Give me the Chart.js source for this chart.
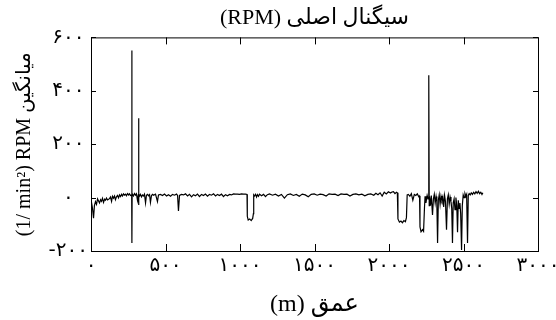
<!DOCTYPE html>
<html>
<head>
<meta charset="utf-8">
<script src="https://cdn.jsdelivr.net/npm/chart.js@4.4.1/dist/chart.umd.min.js"></script>
<style>
  html, body { margin: 0; padding: 0; background: #fff; }
  #wrap { width: 556px; height: 320px; }
</style>
</head>
<body>
<div id="wrap"><canvas id="rpm_canvas"></canvas></div>
<script>
const line_color = 'rgb(0, 0, 0)';
const serif = "'Liberation Serif', 'DejaVu Sans', serif";
const digits = "'DejaVu Sans', sans-serif";

const chart_title = '(RPM) سیگنال اصلی';
const x_title = '(m) عمق';
const y_title = '(1/ min²) RPM میانگین';

const x_tick_labels = ['۰', '۵۰۰', '۱۰۰۰', '۱۵۰۰', '۲۰۰۰', '۲۵۰۰', '۳۰۰۰'];
const y_tick_labels = ['-۲۰۰', '۰', '۲۰۰', '۴۰۰', '۶۰۰'];

// depth (m) and mean RPM
const depth_m = [
  3, 10, 17, 23, 30, 37, 44, 50, 57, 64, 70, 77, 84, 91, 97, 104, 111, 124, 131, 138,
  144, 151, 158, 164, 171, 178, 185, 191, 198, 205, 211, 218, 225, 232, 238, 245, 252, 258, 265,
  273, 274, 275, 276, 279, 285, 292, 299, 305, 312,
  318, 319, 320, 322, 325, 332, 339, 346, 352, 359, 366, 372, 379, 386, 393, 399, 406, 413, 419,
  433, 446, 453, 466, 480, 493, 507, 520, 534, 547, 560, 574, 581, 587, 594,
  607, 621, 634, 648, 661, 675, 688, 701, 715, 728, 742, 755, 768, 782, 795, 809, 822, 836, 849,
  862, 876, 889, 903, 916, 930, 943, 956, 970, 983, 997, 1010, 1023, 1037, 1047,
  1049, 1055, 1065, 1075, 1085, 1090, 1092,
  1097, 1104, 1111, 1117, 1124, 1131, 1144, 1158, 1171, 1184, 1198,
  1218, 1238, 1258, 1278, 1298, 1318, 1338, 1358, 1378, 1398, 1418, 1438, 1458, 1478, 1498,
  1518, 1538, 1558, 1578, 1598, 1618, 1638, 1658, 1678, 1698, 1718, 1738, 1758, 1778, 1798,
  1818, 1838, 1858, 1878, 1898, 1912, 1926, 1940, 1954, 1968, 1982, 1996, 2010, 2020,
  2030, 2040, 2050, 2056,
  2060, 2070, 2080, 2090, 2100, 2110, 2117, 2122,
  2130, 2140, 2150, 2160, 2170, 2180, 2190, 2200, 2205,
  2208, 2215, 2225, 2232, 2238, 2242, 2248, 2256, 2262,
  2266, 2268, 2270,
  2272, 2278, 2284, 2292, 2298, 2304, 2310, 2316, 2321, 2326, 2331, 2337, 2343, 2349, 2355,
  2361, 2367, 2373, 2379, 2386, 2392, 2398, 2404, 2410, 2416, 2421, 2426, 2431, 2437, 2443,
  2449, 2455, 2460, 2465, 2470, 2476, 2481, 2487, 2492, 2498, 2504, 2510, 2516, 2521, 2527,
  2532, 2538, 2545, 2552, 2560, 2568, 2576, 2584, 2592, 2600, 2608, 2616, 2624, 2630
];
const rpm_mean = [
  -17, -40, -77, -30, -15, -25, -5, -12, -20, -8, -14, -3, -18, -6, -10, -2, -9, -4, 2, -14,
  5, -2, 6, -8, 3, 8, -1, 10, 4, 12, 6, 14, 9, 13, 7, 15, 10, 14, 8,
  10, 551, -170, 10, 12, 6, 15, 9, 14, -10,
  12, 297, -28, 15, 5, 12, 3, 10, 6, 13, -20, 9, 12, 7, 11, -18, 8, 12, 9,
  13, -15, 10, 12, 8, 13, 6, 11, 5, 12, 9, 13, 8, -50, 8,
  12, 10, 14, 6, 12, 3, 11, 7, 13, 4, 12, 8, 13, 5, 12, 9, 14, 6, 12,
  8, 13, 4, 11, 7, 12, 10, 14, 13, 13, 12, 14, 13, 13, 12,
  -70, -84, -80, -86, -78, -60, 10,
  6, 12, 2, 11, 5, 13, 7, 12, 4, 11, 14,
  9, 13, 6, 12, -2, 11, 14, 8, 12, 5, 13, 10, 3, 12, 14,
  9, 13, 11, 6, 14, 12, 13, 8, 14, 12, 13, 6, 12, 14, 10,
  13, 7, 12, 14, 9, 16, 11, 18, 6, 20, 14, 22, 17, 21,
  22, 15, 20, 18,
  -80, -92, -88, -94, -86, -90, -75, 10,
  12, 5, 15, -10, 12, 8, 14, 3, 6,
  -110, -128, -120, -126, -40, 5, -20, 8, -5,
  0, 458, -30,
  5, -30, 8, -65, -5, 12, -20, 4, -15, -170, -10, 10, -25, 6, -10,
  3, -35, 8, -15, -120, -5, 10, -25, 2, -15, -40, -170, -20, -5, -45,
  0, -30, -130, -10, -40, -20, -60, -196, -30, 10, 0, 15, 5, 12, -170,
  8, 15, 10, 18, 12, 20, 14, 22, 16, 24, 15, 20, 12, 18
];

// box round the plot and tick marks pointing inward on all four sides
const framePlugin = {
  id: 'frame',
  afterDraw(chart) {
    const ctx = chart.ctx;
    const a = chart.chartArea;
    const x = chart.scales.x;
    const y = chart.scales.y;
    ctx.save();
    ctx.strokeStyle = line_color;
    ctx.lineWidth = 1;
    ctx.strokeRect(a.left + 0.5, a.top + 0.5, a.right - a.left, a.bottom - a.top);
    ctx.beginPath();
    x.ticks.forEach(t => {
      const px = Math.round(x.getPixelForValue(t.value)) + 0.5;
      ctx.moveTo(px, a.bottom); ctx.lineTo(px, a.bottom - 7);
      ctx.moveTo(px, a.top); ctx.lineTo(px, a.top + 7);
    });
    y.ticks.forEach(t => {
      const py = Math.round(y.getPixelForValue(t.value)) + 0.5;
      ctx.moveTo(a.left, py); ctx.lineTo(a.left + 5, py);
      ctx.moveTo(a.right, py); ctx.lineTo(a.right - 5, py);
    });
    ctx.stroke();
    ctx.restore();
  }
};

new Chart(document.getElementById('rpm_canvas'), {
  type: 'line',
  data: {
    datasets: [{
      label: 'RPM',
      data: depth_m.map((d, i) => ({ x: d, y: rpm_mean[i] })),
      borderColor: line_color,
      borderWidth: 1.2,
      pointRadius: 0,
      tension: 0,
      fill: false
    }]
  },
  options: {
    responsive: true,
    maintainAspectRatio: false,
    animation: false,
    layout: { padding: { left: 0, right: 18, top: 0, bottom: 0 } },
    plugins: {
      legend: { display: false },
      tooltip: { enabled: false },
      title: {
        display: true,
        text: chart_title,
        fullSize: false,
        color: line_color,
        font: { family: serif, size: 22, weight: 'normal' },
        padding: { top: 5, bottom: 6 }
      }
    },
    scales: {
      x: {
        type: 'linear',
        min: 0,
        max: 3000,
        grid: { display: false, drawTicks: false },
        border: { display: false },
        ticks: {
          stepSize: 500,
          maxRotation: 0,
          autoSkip: false,
          color: line_color,
          padding: 3,
          font: { family: digits, size: 20 },
          callback: (v, i) => x_tick_labels[i]
        },
        title: {
          display: true,
          text: x_title,
          color: line_color,
          font: { family: serif, size: 24 },
          padding: { top: 0, bottom: 1 }
        },
        afterFit: s => { s.height = 69; s.paddingLeft = 0; s.paddingRight = 0; }
      },
      y: {
        min: -200,
        max: 600,
        grid: { display: false, drawTicks: false },
        border: { display: false },
        ticks: {
          stepSize: 200,
          crossAlign: 'center',
          color: line_color,
          padding: 3,
          font: { family: digits, size: 20 },
          callback: (v, i) => y_tick_labels[i]
        },
        title: {
          display: true,
          text: y_title,
          color: line_color,
          font: { family: serif, size: 20 },
          padding: { top: 13, bottom: 0 }
        },
        afterFit: s => { s.width = 91; s.paddingTop = 0; s.paddingBottom = 0; }
      }
    }
  },
  plugins: [framePlugin]
});
</script>
</body>
</html>
